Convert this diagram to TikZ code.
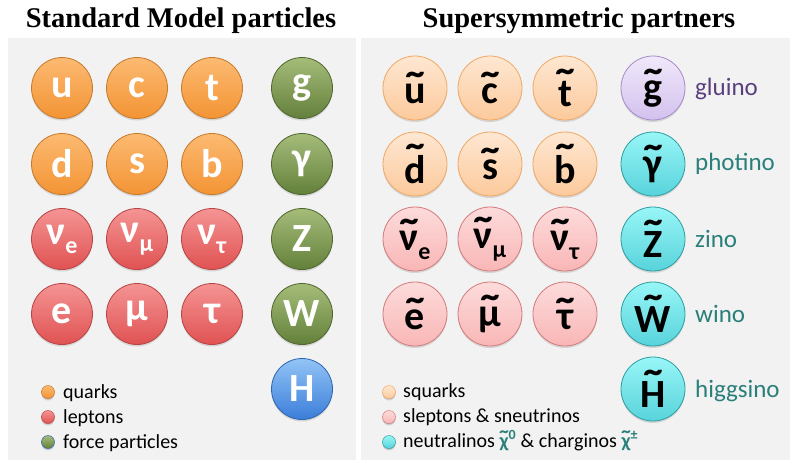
\documentclass[tikz,border=0pt]{standalone}
\usepackage{fontspec}
\setmainfont{Carlito}
\newfontfamily\titlefont{Liberation Serif}
\usetikzlibrary{shadows}

\definecolor{panelgray}{HTML}{F2F2F2}
\definecolor{qtop}{HTML}{FCBA72}\definecolor{qbot}{HTML}{F39434}\definecolor{qline}{HTML}{C77A2B}
\definecolor{ltop}{HTML}{F59494}\definecolor{lbot}{HTML}{E05252}\definecolor{lline}{HTML}{B84444}
\definecolor{ftop}{HTML}{A6BD7A}\definecolor{fbot}{HTML}{63803B}\definecolor{fline}{HTML}{4F662E}
\definecolor{htop}{HTML}{92C4F6}\definecolor{hbot}{HTML}{3B7DD8}\definecolor{hline}{HTML}{2F65B0}
\definecolor{sqtop}{HTML}{FEE7D2}\definecolor{sqbot}{HTML}{FCCA9C}\definecolor{sqline}{HTML}{F2A763}
\definecolor{sltop}{HTML}{FDDBDB}\definecolor{slbot}{HTML}{F9B6B6}\definecolor{slline}{HTML}{D47A7A}
\definecolor{gotop}{HTML}{F0E8FA}\definecolor{gobot}{HTML}{D3C1EE}\definecolor{goline}{HTML}{A78BC9}
\definecolor{nttop}{HTML}{98F6F7}\definecolor{ntbot}{HTML}{58D3DB}\definecolor{ntline}{HTML}{2E9EA1}
\definecolor{gluinotext}{HTML}{5A3F7E}
\definecolor{inotext}{HTML}{2A7F7A}

\newcommand\flav[1]{\raisebox{-9pt}{\fontsize{24}{24}\selectfont #1}}
\newcommand\sparton[1]{{\setbox0\hbox{#1}\leavevmode
  \rlap{\hbox to\wd0{\hss\raisebox{\dimexpr\ht0-\fontdimen5\font\relax}{\scalebox{1.45}[1.15]{\char"02DC}}\hss}}\box0}}

\tikzset{
  panel/.style={fill=panelgray},
  headtext/.style={font=\titlefont\bfseries\fontsize{28.5}{28.5}\selectfont, anchor=base},
  ball/.style={circle, minimum size=61pt, inner sep=0pt, line width=0.8pt,
    font=\fontsize{40}{40}\selectfont\bfseries,
    drop shadow={shadow xshift=0pt, shadow yshift=-2pt, opacity=0.25}},
  sball/.style={ball, minimum size=64pt, text=black},
  quark/.style={ball, top color=qtop, bottom color=qbot, draw=qline, text=white},
  lepton/.style={ball, top color=ltop, bottom color=lbot, draw=lline, text=white},
  boson/.style={ball, top color=ftop, bottom color=fbot, draw=fline, text=white},
  higgs/.style={ball, top color=htop, bottom color=hbot, draw=hline, text=white},
  squark/.style={sball, top color=sqtop, bottom color=sqbot, draw=sqline},
  slepton/.style={sball, top color=sltop, bottom color=slbot, draw=slline},
  gluino/.style={sball, top color=gotop, bottom color=gobot, draw=goline},
  ino/.style={sball, top color=nttop, bottom color=ntbot, draw=ntline},
  legdot/.style={minimum size=13pt, line width=0.5pt, drop shadow={shadow xshift=0pt, shadow yshift=-1pt, opacity=0.25}},
  legtext/.style={anchor=base west, inner sep=0pt, font=\fontsize{20}{20}\selectfont},
  suname/.style={anchor=base west, inner sep=0pt, font=\fontsize{25}{25}\selectfont, text=inotext}
}

\begin{document}
\begin{tikzpicture}[x=1pt,y=-1pt]
  \useasboundingbox[fill=white] (0,0) rectangle (790,461);
  \fill[panel] (8,38) rectangle (356,460);
  \fill[panel] (361,38) rectangle (790,460);
  \node[headtext] (smtitle) at (181,27) {Standard Model particles};
  \node[headtext] (susytitle) at (579,27) {Supersymmetric partners};

  % Standard Model
  \node[quark] (u) at (62,88) {u};
  \node[quark] (c) at (137,88) {c};
  \node[quark] (t) at (212,88) {t};
  \node[quark] (d) at (62,164) {d};
  \node[quark] (s) at (137,164) {s};
  \node[quark] (b) at (212,164) {b};
  \node[lepton] (nue) at (62,239) {ν\flav{e}};
  \node[lepton] (numu) at (137,239) {ν\flav{μ}};
  \node[lepton] (nutau) at (212,239) {ν\flav{τ}};
  \node[lepton] (e) at (62,314) {e};
  \node[lepton] (mu) at (137,314) {μ};
  \node[lepton] (tau) at (212,314) {τ};
  \node[boson] (g) at (302,88) {g};
  \node[boson] (gamma) at (302,164) {γ};
  \node[boson] (Z) at (302,239) {Z};
  \node[boson] (W) at (302,314) {W};
  \node[higgs] (H) at (302,389) {H};

  % legend
  \node[quark,legdot] (lgq) at (48,392) {};
  \node[lepton,legdot] (lgl) at (48,417) {};
  \node[boson,legdot,draw=hline] (lgf) at (48,442) {};
  \node[legtext] (lgqt) at (63,398) {quarks};
  \node[legtext] (lglt) at (63,423) {leptons};
  \node[legtext] (lgft) at (63,448) {force particles};

  % superpartners
  \node[squark] (su) at (415,88) {\sparton{u}};
  \node[squark] (sc) at (490,88) {\sparton{c}};
  \node[squark] (st) at (565,88) {\sparton{t}};
  \node[squark] (sd) at (415,164) {\sparton{d}};
  \node[squark] (ss) at (490,164) {\sparton{s}};
  \node[squark] (sb) at (565,164) {\sparton{b}};
  \node[slepton] (snue) at (415,239) {\sparton{ν}\flav{e}};
  \node[slepton] (snumu) at (490,239) {\sparton{ν}\flav{μ}};
  \node[slepton] (snutau) at (565,239) {\sparton{ν}\flav{τ}};
  \node[slepton] (se) at (415,314) {\sparton{e}};
  \node[slepton] (smu) at (490,314) {\sparton{μ}};
  \node[slepton] (stau) at (565,314) {\sparton{τ}};
  \node[gluino] (sg) at (653,88) {\sparton{g}};
  \node[ino] (sgamma) at (653,164) {\sparton{γ}};
  \node[ino] (sZ) at (653,239) {\sparton{Z}};
  \node[ino] (sW) at (653,314) {\sparton{W}};
  \node[ino] (sH) at (653,389) {\sparton{H}};
  \node[suname,text=gluinotext] (sgname) at (695,95) {gluino};
  \node[suname] (sgammaname) at (695,170) {photino};
  \node[suname] (sZname) at (695,247) {zino};
  \node[suname] (sWname) at (695,322) {wino};
  \node[suname] (sHname) at (695,397) {higgsino};

  % legend
  \node[squark,legdot] (lgsq) at (389,392) {};
  \node[slepton,legdot] (lgsl) at (389,417) {};
  \node[ino,legdot] (lgino) at (389,442) {};
  \node[legtext] (lgsqt) at (403,397) {squarks};
  \node[legtext] (lgslt) at (403,422) {sleptons \& sneutrinos};
  \node[legtext] (lginot) at (403,447) {neutralinos {\color{inotext}\bfseries\sparton{χ}\textsuperscript{0}} \& charginos {\color{inotext}\bfseries\sparton{χ}\textsuperscript{±}}};
\end{tikzpicture}
\end{document}
